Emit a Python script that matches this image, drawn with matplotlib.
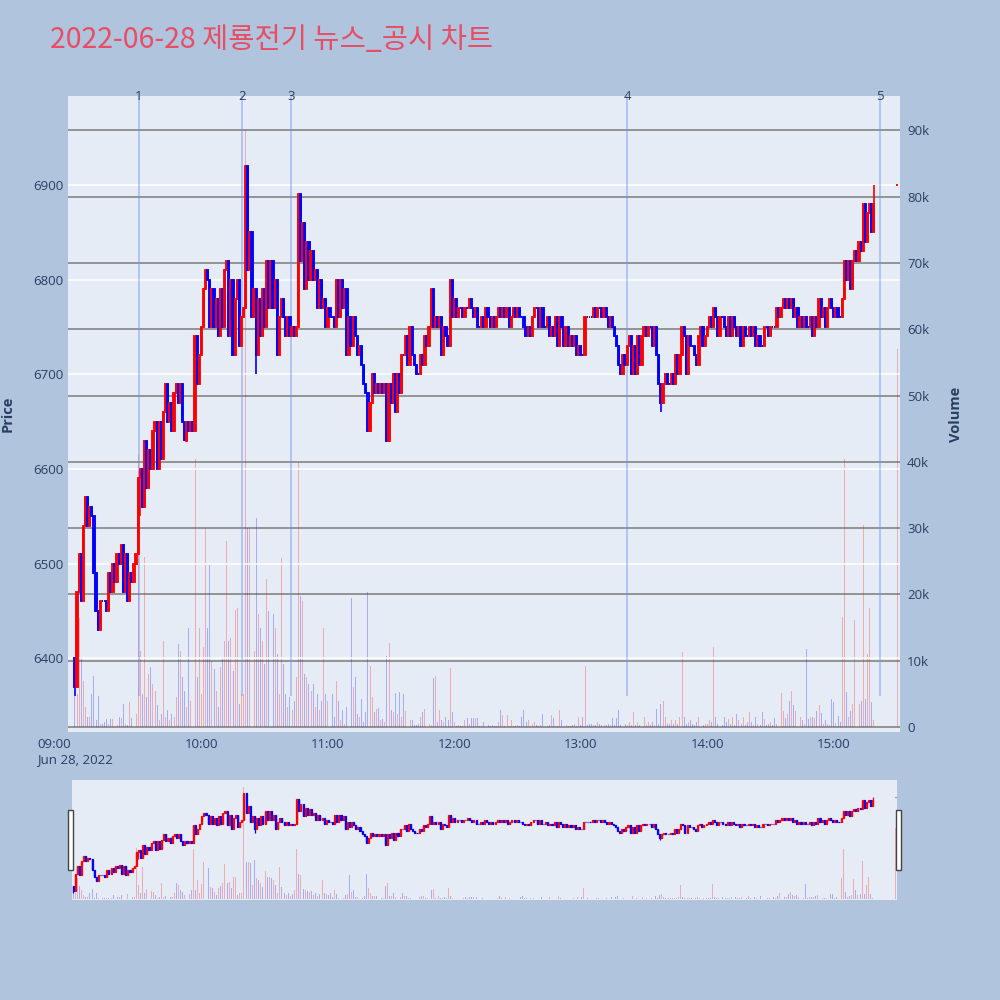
import matplotlib
matplotlib.use("Agg")
import matplotlib.pyplot as plt
import matplotlib.transforms as mtransforms
from matplotlib.patches import Rectangle
import numpy as np

# ---------------- data ----------------
title = "2022-06-28 제룡전기 뉴스_공시 차트"
first_open = 6400

# one-minute closes, one list per hour (index 0 = 09:00)
c09 = [6370, 6470, 6510, 6460, 6540, 6570, 6540, 6560, 6550, 6490,
       6450, 6430, 6460, 6460, 6460, 6450, 6490, 6470, 6500, 6480,
       6510, 6500, 6520, 6470, 6510, 6460, 6490, 6480, 6500, 6510,
       6590, 6600, 6560, 6630, 6580, 6620, 6600, 6640, 6650, 6600,
       6650, 6610, 6660, 6690, 6650, 6670, 6640, 6680, 6690, 6670,
       6690, 6650, 6630, 6650, 6640, 6650, 6640, 6740, 6690, 6720]
c10 = [6750, 6790, 6810, 6800, 6750, 6790, 6750, 6780, 6740, 6790,
       6750, 6810, 6820, 6740, 6800, 6720, 6780, 6800, 6730, 6760,
       6770, 6920, 6810, 6850, 6760, 6790, 6720, 6780, 6740, 6790,
       6750, 6820, 6770, 6820, 6770, 6800, 6720, 6760, 6780, 6760,
       6740, 6760, 6740, 6750, 6740, 6750, 6890, 6820, 6860, 6790,
       6840, 6800, 6830, 6800, 6810, 6770, 6800, 6770, 6780, 6750]
c11 = [6770, 6760, 6760, 6750, 6800, 6760, 6800, 6770, 6790, 6720,
       6760, 6730, 6760, 6740, 6720, 6730, 6710, 6690, 6680, 6640,
       6670, 6700, 6680, 6690, 6680, 6690, 6680, 6690, 6630, 6690,
       6670, 6700, 6660, 6700, 6680, 6720, 6720, 6740, 6710, 6750,
       6720, 6710, 6700, 6700, 6720, 6710, 6740, 6730, 6750, 6790,
       6750, 6760, 6750, 6760, 6720, 6750, 6740, 6730, 6800, 6760]
c12 = [6780, 6760, 6770, 6770, 6760, 6770, 6770, 6780, 6770, 6760,
       6770, 6750, 6750, 6760, 6750, 6770, 6760, 6750, 6760, 6750,
       6760, 6770, 6760, 6770, 6760, 6770, 6750, 6760, 6770, 6760,
       6770, 6760, 6760, 6750, 6740, 6750, 6740, 6760, 6770, 6770,
       6750, 6770, 6750, 6750, 6760, 6740, 6750, 6740, 6760, 6730,
       6760, 6750, 6730, 6750, 6730, 6740, 6730, 6740, 6720, 6730]
c13 = [6720, 6720, 6760, 6760, 6760, 6760, 6770, 6760, 6770, 6770,
       6760, 6770, 6760, 6750, 6760, 6750, 6740, 6730, 6710, 6700,
       6720, 6710, 6730, 6740, 6700, 6730, 6700, 6740, 6710, 6740,
       6750, 6740, 6750, 6750, 6730, 6750, 6720, 6690, 6670, 6690,
       6700, 6690, 6690, 6700, 6690, 6720, 6700, 6720, 6750, 6740,
       6700, 6740, 6730, 6730, 6720, 6710, 6740, 6750, 6730, 6740]
c14 = [6750, 6760, 6750, 6770, 6760, 6740, 6760, 6760, 6750, 6740,
       6760, 6740, 6760, 6750, 6740, 6750, 6730, 6750, 6740, 6740,
       6750, 6740, 6750, 6730, 6740, 6730, 6730, 6750, 6750, 6740,
       6750, 6750, 6750, 6770, 6760, 6770, 6780, 6770, 6780, 6770,
       6780, 6760, 6770, 6750, 6760, 6750, 6760, 6750, 6750, 6760,
       6740, 6760, 6750, 6780, 6760, 6770, 6750, 6770, 6780, 6770]
c15 = [6760, 6770, 6760, 6760, 6780, 6820, 6800, 6820, 6790, 6820,
       6830, 6820, 6840, 6830, 6880, 6840, 6870, 6880, 6850, 6880]

# one-minute volumes in thousands of shares
v09 = [4.7, 5, 16.5, 10.5, 7, 3, 1.5, 1.5, 5, 7.7,
       1, 4.7, 0.5, 0.4, 0.8, 1.2, 0.5, 1.2, 1.2, 3,
       0.3, 1.5, 1.3, 3.5, 0.4, 0.3, 3.8, 1.3, 2, 2,
       41, 11.5, 5, 25.6, 4.5, 8, 9, 6.5, 5.5, 3.3,
       1, 2, 13, 1.5, 2.5, 1, 2, 1.5, 4.5, 12.5,
       11.5, 7.5, 5.5, 3, 15, 4, 7, 40.4, 7.5, 15]
v10 = [5, 12, 30, 15, 24.5, 10, 8.7, 5.5, 3, 9,
       10.5, 13, 28, 13, 13.5, 8.5, 17.6, 18, 3.5, 5,
       5, 90, 30, 30, 29, 11.5, 31.6, 17, 15, 13,
       9.5, 22.4, 17.5, 17.5, 17, 15, 11, 5, 25.5, 9.5,
       5, 3, 4.5, 2.5, 4, 7.5, 40, 19.8, 19, 8,
       7.5, 6.5, 5.5, 6.5, 3, 5, 2.5, 4, 15, 5]
v11 = [4, 3, 5, 1.5, 7, 4, 1, 2.5, 0.5, 3,
       4, 19.5, 6, 7.5, 2, 1.5, 4.2, 0.7, 2.2, 20.3,
       9.2, 4.5, 2.2, 2.7, 2.8, 1, 1.2, 0.8, 10.7, 12.7,
       2.5, 2.2, 5.2, 2, 5.3, 1.5, 5, 2.4, 2.5, 1,
       1, 0.3, 0.3, 0.5, 1.5, 2.2, 2.7, 0.8, 0.5, 0.3,
       7.4, 7.7, 0.8, 2.5, 1, 0.8, 1.5, 1, 8.9, 2.2]
v12 = [0.7, 0.2, 0.3, 0.2, 0.2, 1, 1.3, 0.5, 1.3, 1.3,
       1.3, 1.3, 0.2, 0.2, 0.7, 0.2, 0.3, 0.2, 0.3, 0.2,
       0.2, 0.7, 2.5, 1.8, 0.2, 1.8, 0.2, 1, 0.2, 0.2,
       0.3, 0.2, 1.5, 2.5, 0.7, 1, 0.2, 0.5, 0.7, 0.3,
       0.2, 0.3, 2, 0.2, 0.2, 0.3, 1.8, 1.3, 0.2, 0.2,
       2.5, 1, 0.2, 0.3, 0.2, 0.2, 0.3, 0.5, 0.2, 1.5]
v13 = [0.3, 1.5, 9.2, 0.3, 0.5, 0.5, 0.3, 0.3, 0.7, 0.5,
       0.3, 0.3, 0.3, 0.5, 0.3, 1.3, 0.3, 1.3, 2.5, 0.3,
       0.3, 0.5, 0.3, 0.7, 0.3, 2.2, 0.3, 0.7, 0.3, 0.3,
       1.5, 0.3, 0.7, 0.3, 0.7, 0.3, 2.7, 0.5, 3.5, 4,
       1.5, 0.5, 0.5, 1, 0.5, 1, 0.5, 1.5, 11.3, 1.5,
       0.5, 0.7, 1, 0.5, 0.3, 0.7, 1.5, 0.5, 0.3, 0.5]
v14 = [0.5, 1, 0.7, 12, 1.5, 0.5, 1, 0.3, 1.5, 0.7,
       1.2, 0.5, 1.5, 0.3, 2, 1, 0.5, 1.5, 0.3, 0.7,
       2.2, 0.7, 0.3, 1.5, 0.5, 0.3, 2.2, 1.2, 0.3, 0.5,
       0.7, 0.3, 1.3, 0.5, 2.2, 5.2, 2.4, 1.3, 2, 4,
       5.5, 3.3, 2.4, 3.3, 1.5, 1, 0.5, 11.8, 1.2, 1.5,
       1.5, 1.3, 2.4, 3.3, 2.1, 0.5, 1, 0.5, 0.3, 4.3]
v15 = [3.8, 0.6, 1.6, 0.8, 16.6, 40.4, 5.3, 1.5, 2.4, 3.5,
       16.1, 6.9, 3.5, 4, 30.5, 4.3, 11, 18, 3.8, 1]

# wicks that reach beyond the candle bodies
wick_low_minutes = [0, 31, 86, 278]
wick_low_values = [6360, 6550, 6700, 6660]
wick_high_minutes = [379]
wick_high_values = [6900]

# closing auction (15:30)
auction_minute = 390
auction_open = 6900
auction_close = 6900
auction_volume = 57

# news / disclosure markers
news_minutes = [30.4, 79.2, 102.5, 261.9, 381.9]
news_labels = ["1", "2", "3", "4", "5"]
news_floor = 6360

hour_minutes = [0, 60, 120, 180, 240, 300, 360]
hour_labels = ["09:00", "10:00", "11:00", "12:00", "13:00", "14:00", "15:00"]
date_label = "Jun 28, 2022"

price_ticks = [6400, 6500, 6600, 6700, 6800, 6900]
volume_ticks = [0, 10, 20, 30, 40, 50, 60, 70, 80, 90]

# ---------------- assemble OHLC ----------------
closes = c09 + c10 + c11 + c12 + c13 + c14 + c15
vols = v09 + v10 + v11 + v12 + v13 + v14 + v15
n = min(len(closes), len(vols))
closes = closes[:n]
vols = vols[:n]
opens = [first_open] + closes[:-1]
minutes = list(range(n))
highs = [max(o, c) for o, c in zip(opens, closes)]
lows = [min(o, c) for o, c in zip(opens, closes)]
for m, v in zip(wick_low_minutes, wick_low_values):
    lows[m] = min(lows[m], v)
for m, v in zip(wick_high_minutes, wick_high_values):
    highs[m] = max(highs[m], v)

prev_close = closes[-1]
minutes.append(auction_minute)
opens.append(auction_open)
closes.append(auction_close)
highs.append(max(auction_open, auction_close))
lows.append(min(auction_open, auction_close))
vols.append(auction_volume)

minutes = np.array(minutes, dtype=float)
opens = np.array(opens, dtype=float)
closes = np.array(closes, dtype=float)
highs = np.array(highs, dtype=float)
lows = np.array(lows, dtype=float)
vols = np.array(vols, dtype=float) * 1000

prevs = np.concatenate([[first_open], closes[:-1]])
up = (closes > opens) | ((closes == opens) & (closes > prevs))
RED = "#FF0000"
BLUE = "#0000FF"
cols = np.where(up, RED, BLUE)
vcols = [(1, 0, 0, 0.27) if u else (0, 0, 1, 0.27) for u in up]

PAPER = "#B0C4DE"
PLOT = "#E5ECF6"
TXT = "#2a3f5f"
FONT = ["Open Sans", "DejaVu Sans"]
plt.rcParams["font.family"] = FONT

fig = plt.figure(figsize=(10, 10), dpi=100, facecolor=PAPER)

PRICE_LIM = (6322, 6994)
VOL_LIM = (-750, 95200)


def draw(ax, axv, body_w, lw, vol_w, wick_lw):
    axv.bar(minutes, vols, width=vol_w, color=vcols, linewidth=0, zorder=2)
    ax.vlines(minutes, lows, highs, colors=cols, linewidth=wick_lw, zorder=3)
    ax.bar(minutes, closes - opens, bottom=opens, width=body_w, color=cols,
           edgecolor=cols, linewidth=lw, zorder=4)
    ax.set_ylim(*PRICE_LIM)
    axv.set_ylim(*VOL_LIM)


# ---------------- main chart ----------------
ax = fig.add_axes([0.068, 0.268, 0.832, 0.636])
axv = ax.twinx()
ax.set_zorder(2)
axv.set_zorder(1)
ax.patch.set_visible(False)
axv.patch.set_visible(True)
axv.patch.set_facecolor(PLOT)

draw(ax, axv, 0.6, 1.35, 0.45, 1.2)
ax.set_xlim(-3.3, 391.4)

ax.set_yticks(price_ticks)
ax.set_yticklabels([str(p) for p in price_ticks])
axv.set_yticks([v * 1000 for v in volume_ticks])
axv.set_yticklabels(["0"] + [f"{v}k" for v in volume_ticks[1:]])
ax.grid(axis="y", color="white", linewidth=1.1)
axv.grid(axis="y", color="#8c8c8c", linewidth=1.3)
ax.set_axisbelow(True)
axv.set_axisbelow(True)

ax.set_xticks(hour_minutes)
ax.set_xticklabels([hour_labels[0] + "\n" + date_label] + hour_labels[1:],
                   linespacing=1.3)
for lab in ax.get_xticklabels():
    lab.set_horizontalalignment("center")
ax.get_xticklabels()[0].set_multialignment("left")

for a in (ax, axv):
    for s in a.spines.values():
        s.set_visible(False)
    a.tick_params(length=0, colors=TXT, labelsize=9.5)
ax.tick_params(axis="y", pad=3)
axv.tick_params(axis="y", pad=5)
ax.tick_params(axis="x", pad=4)

ax.set_ylabel("Price", color=TXT, fontsize=10.5, fontweight="bold", labelpad=14)
axv.set_ylabel("Volume", color=TXT, fontsize=10.5, fontweight="bold", labelpad=14)

# news markers
tr = mtransforms.blended_transform_factory(ax.transData, ax.transAxes)
for m, lab in zip(news_minutes, news_labels):
    ax.vlines(m, news_floor, PRICE_LIM[1], colors="#6f8ff0", alpha=0.55,
              linewidth=1.1, zorder=1)
    ax.text(m, 1.0, lab, transform=tr, ha="center", va="center",
            fontsize=9.5, color=TXT, zorder=6, clip_on=False)

# title
fig.text(0.05, 0.96, title, color="#e84d66", fontsize=20.5, ha="left", va="center",
         family=["Noto Sans CJK KR", "DejaVu Sans"])

# ---------------- range slider ----------------
sl = fig.add_axes([0.072, 0.100, 0.825, 0.120])
slv = sl.twinx()
sl.set_zorder(2)
slv.set_zorder(1)
sl.patch.set_visible(False)
slv.patch.set_visible(True)
slv.patch.set_facecolor(PLOT)
draw(sl, slv, 0.5, 0.9, 0.45, 0.9)
sl.set_xlim(-0.5, 390.5)
for a in (sl, slv):
    a.set_xticks([])
    a.set_yticks([])
    for s in a.spines.values():
        s.set_visible(False)

# slider handles
for hx in (0.0675, 0.8955):
    fig.patches.append(Rectangle((hx, 0.130), 0.0055, 0.060, transform=fig.transFigure,
                                 facecolor="white", edgecolor="#444444", linewidth=1.0))

fig.savefig("out.png", dpi=100, facecolor=PAPER)
